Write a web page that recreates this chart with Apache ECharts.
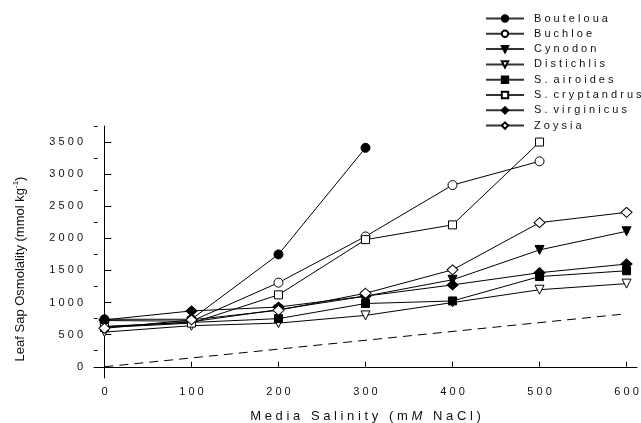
<!DOCTYPE html>
<html><head><meta charset="utf-8">
<script src="https://cdn.jsdelivr.net/npm/echarts@6/dist/echarts.min.js"></script>
<style>html,body{margin:0;padding:0;background:#fff}#c{width:641px;height:423px}</style>
</head><body><div id="c"></div>
<script>
const salinity = [0, 100, 200, 300, 400, 500, 600];
const seriesNames = ['Bouteloua','Buchloe','Cynodon','Distichlis','S. airoides','S. cryptandrus','S. virginicus','Zoysia'];
const bouteloua = [740, 740, 1750, 3410];
const buchloe = [720, 710, 1310, 2030, 2830, 3200];
const cynodon = [620, 700, 890, 1100, 1355, 1820, 2110];
const distichlis = [540, 640, 680, 800, 1000, 1200, 1295];
const sAiroides = [630, 690, 750, 985, 1025, 1405, 1495];
const sCryptandrus = [610, 680, 1120, 1980, 2210, 3500];
const sVirginicus = [730, 870, 930, 1100, 1275, 1465, 1600];
const zoysia = [600, 730, 880, 1145, 1510, 2245, 2405];
const referenceX = [0, 600];
const referenceY = [0, 825];
const xTicks = [0, 100, 200, 300, 400, 500, 600];
const yTicks = [0, 500, 1000, 1500, 2000, 2500, 3000, 3500];
const yMinorTicks = [250, 750, 1250, 1750, 2250, 2750, 3250, 3750];

const values = [bouteloua, buchloe, cynodon, distichlis, sAiroides, sCryptandrus, sVirginicus, zoysia];
const symbols = [
  {s:'circle', f:true, size:9, rot:0},
  {s:'circle', f:false, size:9, rot:0},
  {s:'triangle', f:true, size:9, rot:180},
  {s:'triangle', f:false, size:9, rot:180},
  {s:'rect', f:true, size:8, rot:0},
  {s:'rect', f:false, size:8, rot:0},
  {s:'diamond', f:true, size:[11,10], rot:0},
  {s:'diamond', f:false, size:[11,10], rot:0}
];
const spaced = (s, g) => s.split(' ').map(w => w.split('').join(' ')).join(g || '  ');
const FONT = '"Liberation Sans", Arial, sans-serif';

const series = seriesNames.map((n, i) => ({
  name: n, type: 'line',
  data: values[i].map((v, j) => [salinity[j], v]),
  symbol: symbols[i].s, symbolSize: symbols[i].size, symbolRotate: symbols[i].rot,
  lineStyle: {color: '#000', width: 1},
  itemStyle: {color: symbols[i].f ? '#000' : '#fff', borderColor: '#000', borderWidth: 1},
  emphasis: {disabled: true}, animation: false, z: 3
}));
series.push({
  name: 'ref', type: 'line', data: referenceX.map((x, j) => [x, referenceY[j]]),
  symbol: 'none', lineStyle: {color: '#000', width: 1, type: [9, 6]}, animation: false, z: 2
});

const chart = echarts.init(document.getElementById('c'));
chart.setOption({
  animation: false,
  grid: {left: 94, right: 4, top: 126, bottom: 45, outerBoundsMode: 'none', containLabel: false},
  legend: {
    data: seriesNames, orient: 'vertical', left: 485, top: 13, padding: 0,
    itemWidth: 38, itemHeight: 8, itemGap: 4.3,
    formatter: n => spaced(n),
    lineStyle: {color: '#333'},
    textStyle: {fontFamily: FONT, fontSize: 11, color: '#111', padding: [0, 0, 0, 5]}
  },
  xAxis: {
    type: 'value', min: -12, max: 612,
    splitLine: {show: false},
    axisLine: {lineStyle: {color: '#000', width: 1}},
    axisTick: {inside: true, length: 5, customValues: xTicks, lineStyle: {color: '#000'}},
    axisLabel: {customValues: xTicks, margin: 8, fontFamily: FONT, fontSize: 11, color: '#111',
      formatter: v => String(v).split('').join(' ')},
    name: '{a|' + spaced('Media Salinity (m', '   ') + ' }{i|M}{a|   ' + spaced('NaCl)') + '}',
    nameLocation: 'middle', nameGap: 32,
    nameTextStyle: {rich: {
      a: {fontFamily: FONT, fontSize: 13, color: '#111'},
      i: {fontFamily: FONT, fontSize: 13, color: '#111', fontStyle: 'italic'}
    }}
  },
  yAxis: [{
    type: 'value', min: -175, max: 3750,
    splitLine: {show: false},
    axisLine: {show: true, lineStyle: {color: '#000', width: 1}},
    axisTick: {inside: true, length: 7, customValues: yTicks, lineStyle: {color: '#000'}},
    axisLabel: {customValues: yTicks, margin: 11, fontFamily: FONT, fontSize: 11, color: '#111',
      formatter: v => String(v).split('').join(' ')},
    name: '{a|Leaf Sap Osmolality (mmol kg}{s|-1}{a|)}',
    nameLocation: 'middle', nameGap: 66, nameRotate: 90,
    nameTextStyle: {padding: [0, 34, 0, 0], rich: {
      a: {fontFamily: FONT, fontSize: 13, color: '#111', lineHeight: 16},
      s: {fontFamily: FONT, fontSize: 8, color: '#111', verticalAlign: 'top', lineHeight: 16, padding: [0, 0, 7, 0]}
    }}
  }, {
    type: 'value', min: -175, max: 3750, position: 'left',
    splitLine: {show: false},
    axisLine: {show: false},
    axisTick: {show: true, inside: true, length: 3.5, customValues: yMinorTicks, lineStyle: {color: '#000'}},
    axisLabel: {show: false}
  }],
  series: series
});
</script></body></html>
